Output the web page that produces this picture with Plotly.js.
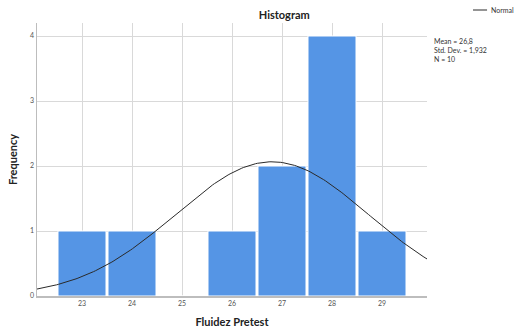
<!DOCTYPE html>
<html><head><meta charset="utf-8">
<script src="https://cdn.plot.ly/plotly-3.0.1.min.js"></script>
<style>html,body{margin:0;padding:0;background:#fff}#chart{width:514px;height:333px}</style>
</head><body><div id="chart"></div>
<script>
// Data
const categories = [23, 24, 25, 26, 27, 28, 29];
const frequencies = [1, 1, 0, 1, 2, 4, 1];
const mean = 26.8;
const stdDev = 1.932;
const n = 10;
const binWidth = 1;
const xTickLabels = ['23', '24', '25', '26', '27', '28', '29'];
const yTicks = [0, 1, 2, 3, 4];
const curveName = 'Normal';

// Normal curve fitted by the chart (N * bin width * normal density)
const curveX = [], curveY = [];
for (let i = 0; i <= 200; i++) {
  const x = 22.1 + (29.9 - 22.1) * i / 200;
  curveX.push(x);
  curveY.push(n * binWidth * Math.exp(-0.5 * Math.pow((x - mean) / stdDev, 2)) / (stdDev * Math.sqrt(2 * Math.PI)));
}

const font = "Lato, 'Open Sans', sans-serif";
const curveColor = '#2a2a2a';
const traces = [
  {type: 'bar', x: categories, y: frequencies, marker: {color: '#5595E5', line: {color: '#ffffff', width: 1}}, showlegend: false, hoverinfo: 'x+y'},
  {type: 'scatter', mode: 'lines', x: curveX, y: curveY, name: curveName, showlegend: false, line: {color: curveColor, width: 1}}
];
const layout = {
  width: 514, height: 333,
  margin: {l: 37, r: 87, t: 23, b: 37},
  paper_bgcolor: '#fff', plot_bgcolor: '#fff',
  font: {family: font, color: '#333'},
  bargap: 0.04,
  title: {text: '<b>Histogram</b>', font: {size: 11, color: '#222'}, x: 0.553, xanchor: 'center', y: 0.955, yanchor: 'middle'},
  xaxis: {range: [22.1, 29.9], tickvals: categories, ticktext: xTickLabels, showgrid: true, gridcolor: '#d9d9d9', gridwidth: 1,
    showline: true, linecolor: '#bdbdbd', linewidth: 1.5, zeroline: false, ticks: '', tickfont: {size: 7, color: '#555'},
    title: {text: '<b>Fluidez Pretest</b>', font: {size: 11, color: '#222'}, standoff: 12}},
  yaxis: {range: [0, 4.2], tickvals: yTicks, showgrid: true, gridcolor: '#d9d9d9', gridwidth: 1,
    showline: true, linecolor: '#bdbdbd', linewidth: 1.5, zeroline: false, ticks: '', tickfont: {size: 7, color: '#555'},
    title: {text: '<b>Frequency</b>', font: {size: 11, color: '#222'}, standoff: 10}},
  showlegend: false,
  shapes: [{type: 'line', xref: 'paper', yref: 'paper', x0: 1.118, x1: 1.154, y0: 1.0476, y1: 1.0476, line: {color: curveColor, width: 1}}],
  annotations: [
    {xref: 'paper', yref: 'paper', x: 1.16, y: 1.0476, xanchor: 'left', yanchor: 'middle', showarrow: false,
      text: curveName, font: {size: 7, color: '#333'}},
    {xref: 'paper', yref: 'paper', x: 1.013, y: 0.955, xanchor: 'left', yanchor: 'top', align: 'left', showarrow: false,
      text: 'Mean = 26,8<br>Std. Dev. = 1,932<br>N = 10', font: {size: 7, color: '#333'}}]
};
Plotly.newPlot('chart', traces, layout, {displayModeBar: false, staticPlot: true});
</script></body></html>
